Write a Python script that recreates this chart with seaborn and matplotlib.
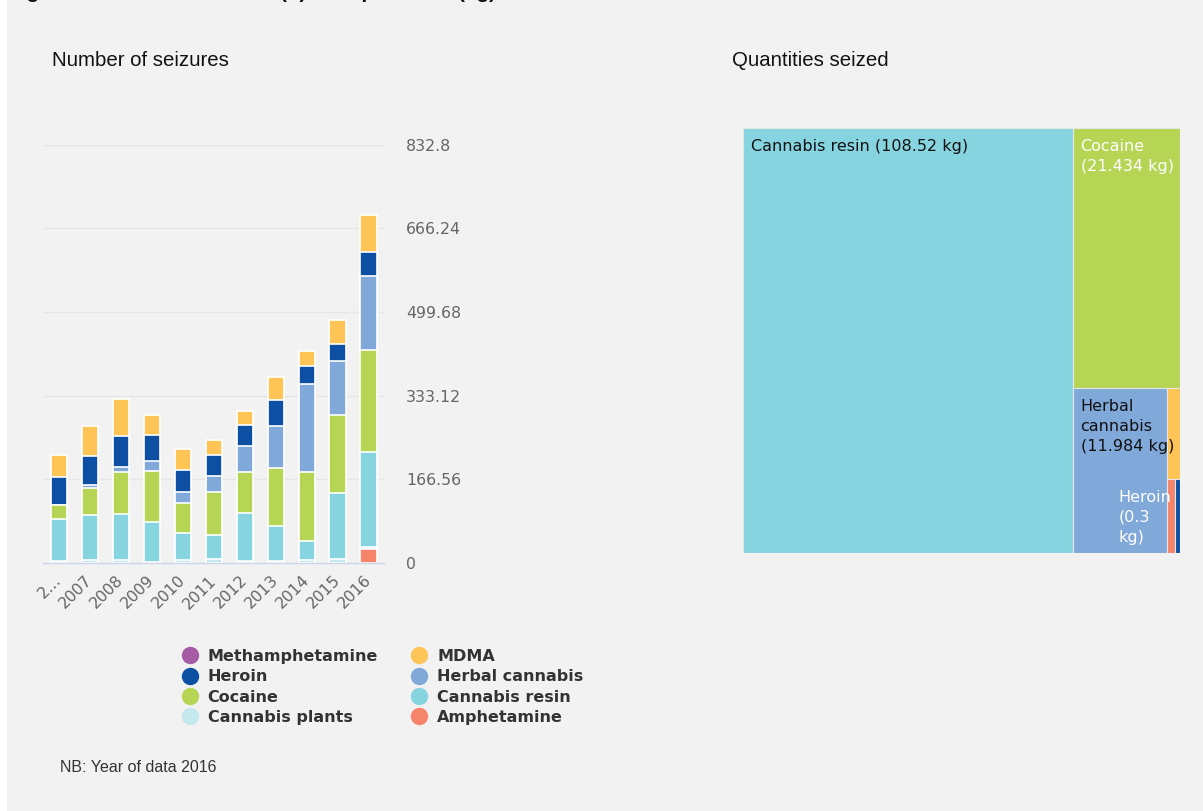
import numpy as np
import pandas as pd
import matplotlib
matplotlib.use("Agg")
import matplotlib.pyplot as plt
from matplotlib.patches import Rectangle
from matplotlib.lines import Line2D
import seaborn as sns

# ---- data: number of seizures per year, by drug ----
years = ["2006", "2007", "2008", "2009", "2010", "2011",
         "2012", "2013", "2014", "2015", "2016"]
year_labels = ["2…", "2007", "2008", "2009", "2010", "2011",
               "2012", "2013", "2014", "2015", "2016"]

amphetamine = [0, 0, 0, 0, 0, 0, 0, 0, 0, 0, 28]
cannabis_plants = [4, 5, 5, 2, 6, 8, 4, 3, 5, 7, 3]
cannabis_resin = [84, 90, 93, 80, 53, 47, 95, 70, 39, 132, 190]
cocaine = [27, 54, 82, 100, 59, 85, 82, 115, 136, 156, 203]
herbal_cannabis = [0, 6, 11, 20, 23, 33, 51, 84, 177, 106, 148]
heroin = [55, 58, 62, 53, 44, 41, 43, 53, 35, 35, 47]
mdma = [45, 59, 74, 39, 41, 30, 27, 45, 30, 47, 73]
methamphetamine = [0, 0, 0, 0, 0, 0, 0, 0, 0, 0, 0]

y_ticks = [0, 166.56, 333.12, 499.68, 666.24, 832.8]

# ---- data: quantities seized in 2016 (kg) ----
tm_names = ["Cannabis resin", "Cocaine", "Herbal cannabis",
            "MDMA", "Amphetamine", "Heroin"]
tm_kg = [108.52, 21.434, 11.984, 0.92, 0.45, 0.3]
tm_labelled = ["Cannabis resin", "Cocaine", "Herbal cannabis", "Heroin"]

colors = {
    "Methamphetamine": "#a65ba6",
    "MDMA": "#fec455",
    "Heroin": "#0c4fa3",
    "Herbal cannabis": "#80a8d9",
    "Cocaine": "#b6d554",
    "Cannabis resin": "#87d4e1",
    "Cannabis plants": "#c5e8ef",
    "Amphetamine": "#f5846a",
}
label_colors = {
    "Cannabis resin": "#111111",
    "Cocaine": "#ffffff",
    "Herbal cannabis": "#111111",
    "Heroin": "#ffffff",
}

series = {
    "Amphetamine": amphetamine,
    "Cannabis plants": cannabis_plants,
    "Cannabis resin": cannabis_resin,
    "Cocaine": cocaine,
    "Herbal cannabis": herbal_cannabis,
    "Heroin": heroin,
    "MDMA": mdma,
    "Methamphetamine": methamphetamine,
}
stack_order = list(series.keys())          # bottom to top
legend_order = ["Methamphetamine", "Heroin", "Cocaine", "Cannabis plants",
                "MDMA", "Herbal cannabis", "Cannabis resin", "Amphetamine"]

W_PX, H_PX, DPI = 1203, 811, 100
BG = "#f2f2f2"


def fx(px):
    return px / W_PX


def fy(py):
    return 1 - py / H_PX


sns.set_theme(style="white")
plt.rcParams["font.family"] = ["DejaVu Sans"]

fig = plt.figure(figsize=(W_PX / DPI, H_PX / DPI), dpi=DPI, facecolor=BG)
fig.patches.append(Rectangle((0, 0), fx(7), 1, transform=fig.transFigure,
                             facecolor="white", edgecolor="none", zorder=0))

# ---- stacked columns ----
ax = fig.add_axes([fx(43.3), fy(562.7), fx(384) - fx(43.3), fy(144.7) - fy(562.7)])
ax.set_facecolor("none")

df = pd.DataFrame(series, index=years)
cum = df[stack_order].cumsum(axis=1)
# tallest cumulative layer first, each lower layer painted over it
for name in reversed(stack_order):
    if df[name].sum() == 0:
        continue
    sns.barplot(x=years, y=cum[name].values, order=years, color=colors[name],
                saturation=1, width=0.52, edgecolor="white", linewidth=1.2,
                errorbar=None, ax=ax, zorder=3)

ax.set_xlim(-0.5, len(years) - 0.5)
ax.set_ylim(0, y_ticks[-1])
ax.set_xlabel("")
ax.set_ylabel("")

ax.set_xticks(range(len(years)))
ax.set_xticklabels(year_labels, rotation=45, ha="right", va="center",
                   rotation_mode="anchor", color="#666666", fontsize=11.3)
ax.set_xticks(np.arange(-0.5, len(years)), minor=True)
ax.tick_params(axis="x", which="major", length=0, pad=11)
ax.tick_params(axis="x", which="minor", length=10, width=1, color="#ccd6eb")

ax.yaxis.tick_right()
ax.set_yticks(y_ticks)
ax.set_yticklabels([f"{v:g}" for v in y_ticks], color="#666666", fontsize=11.3)
ax.tick_params(axis="y", length=0, pad=16)
ax.grid(axis="y", color="#e6e6e6", linewidth=1)
ax.set_axisbelow(True)
for side in ("top", "left", "right"):
    ax.spines[side].set_visible(False)
ax.spines["bottom"].set_color("#ccd6eb")
ax.spines["bottom"].set_linewidth(1)
ax.spines["bottom"].set_zorder(4)

handles = [Line2D([], [], ls="", marker="o", markersize=11.5,
                  markerfacecolor=colors[n], markeredgecolor=colors[n], label=n)
           for n in legend_order]
fig.legend(handles=handles, loc="upper left", bbox_to_anchor=(fx(182), fy(649)),
           ncol=2, frameon=False, prop={"weight": "bold", "size": 11.5},
           labelcolor="#333333", handlelength=1.0, handletextpad=0.6,
           columnspacing=2.1, labelspacing=0.33, borderpad=0, borderaxespad=0)

# ---- treemap (slice and dice) ----
tx = fig.add_axes([fx(743.3), fy(553.3), fx(1180) - fx(743.3), fy(128.3) - fy(553.3)])
tx.set_xlim(0, 1)
tx.set_ylim(1, 0)
tx.axis("off")


def slice_and_dice(values, x=0.0, y=0.0, w=1.0, h=1.0):
    total = float(sum(values))
    area = w * h
    rects = []
    vertical = True
    for v in values:
        a = area * v / total
        if vertical:
            cw = a / h
            rects.append((x, y, cw, h))
            x += cw
            w -= cw
        else:
            ch = a / w
            rects.append((x, y, w, ch))
            y += ch
            h -= ch
        vertical = not vertical
    return rects


rects = slice_and_dice(tm_kg)
tx_w_px = tx.get_position().width * W_PX
for name, kg, (x, y, w, h) in zip(tm_names, tm_kg, rects):
    tx.add_patch(Rectangle((x, y), w, h, facecolor=colors[name],
                           edgecolor="#e6e6e6", linewidth=0.8))
    if name not in tm_labelled:
        continue
    cell_px = w * tx_w_px
    words = f"{name} ({kg:g} kg)".split(" ")
    limit = max(int(cell_px / 8.5), 6)
    lines, cur = [], ""
    for wd in words:
        trial = wd if not cur else cur + " " + wd
        if len(trial) <= limit or not cur:
            cur = trial
        else:
            lines.append(cur)
            cur = wd
    lines.append(cur)
    txt = "\n".join(lines)
    if cell_px < 40:
        tx.annotate(txt, xy=(1, y), xytext=(-6, -8), textcoords="offset points",
                    ha="right", va="top", multialignment="left",
                    color=label_colors[name], fontsize=11.5, linespacing=1.4)
    else:
        tx.annotate(txt, xy=(x, y), xytext=(5.2, -8), textcoords="offset points",
                    ha="left", va="top", multialignment="left",
                    color=label_colors[name], fontsize=11.5, linespacing=1.4)

# ---- texts ----
sans = ["Liberation Sans", "DejaVu Sans"]
fig.text(fx(8), fy(-1.5), "Figure. Number of seizures (n) and quantities (kg)",
         family=sans, weight="bold", fontsize=14.9, color="#111111", va="baseline")
fig.text(fx(52), fy(60), "Number of seizures", family=sans, fontsize=14.7,
         color="#111111", va="center")
fig.text(fx(732), fy(60), "Quantities seized", family=sans, fontsize=14.7,
         color="#111111", va="center")
fig.text(fx(60), fy(767), "NB: Year of data 2016", family=sans, fontsize=11.5,
         color="#333333", va="center")

fig.savefig("out.png", dpi=DPI, facecolor=fig.get_facecolor())
